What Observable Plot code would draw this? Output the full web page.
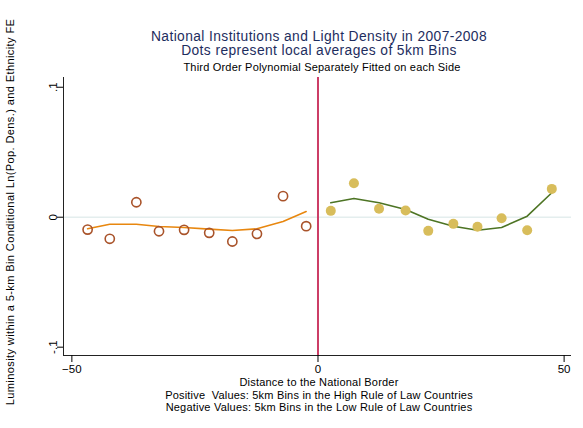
<!DOCTYPE html>
<html>
<head>
<meta charset="utf-8">
<script src="https://cdn.jsdelivr.net/npm/d3@7"></script>
<script src="https://cdn.jsdelivr.net/npm/@observablehq/plot@0.6"></script>
<style>
  html, body { margin: 0; padding: 0; background: #fff; }
  svg { display: block; }
</style>
</head>
<body>
<div id="chart"></div>
<script>
// Negative side (Low Rule of Law countries): local averages of 5km bins
const leftX = [-46.8, -42.3, -36.9, -32.3, -27.2, -22.1, -17.4, -12.4, -7.1, -2.4];
const leftY = [-0.0095, -0.0166, 0.0115, -0.0108, -0.0097, -0.012, -0.0187, -0.0128, 0.0162, -0.0069];
const leftFit = [-0.0089, -0.0054, -0.0054, -0.0072, -0.0079, -0.0092, -0.0102, -0.0089, -0.0033, 0.0044];

// Positive side (High Rule of Law countries)
const rightX = [2.6, 7.3, 12.4, 17.8, 22.4, 27.5, 32.4, 37.3, 42.5, 47.5];
const rightY = [0.0049, 0.0262, 0.0065, 0.0052, -0.0105, -0.0051, -0.0074, -0.0008, -0.01, 0.0218];
const rightFit = [0.0111, 0.0144, 0.0111, 0.0059, -0.0015, -0.0069, -0.01, -0.0079, 0.0008, 0.0188];

const xTicks = [-50, 0, 50];
const yTicks = [-0.1, 0, 0.1];
const yTickLabels = ["-.1", "0", ".1"];

const titleLines = ["National Institutions and Light Density in 2007-2008", "Dots represent local averages of 5km Bins"];
const subtitle = "Third Order Polynomial Separately Fitted on each Side";
const xTitleLines = ["Distance to the National Border",
  "Positive  Values: 5km Bins in the High Rule of Law Countries",
  "Negative Values: 5km Bins in the Low Rule of Law Countries"];
const yTitle = "Luminosity within a 5-km Bin Conditional Ln(Pop. Dens.) and Ethnicity FE";

const left = leftX.map((x, i) => ({x, y: leftY[i], fit: leftFit[i]}));
const right = rightX.map((x, i) => ({x, y: rightY[i], fit: rightFit[i]}));

const xDom = [-51.7, 51.5];
const yDom = [-0.1064, 0.1075];

const svg = Plot.plot({
  width: 583,
  height: 428,
  marginLeft: 63,
  marginRight: 12,
  marginTop: 77,
  marginBottom: 73,
  style: {fontFamily: "Liberation Sans, Arial, sans-serif", fontSize: "11px", color: "#000", background: "#fff"},
  x: {domain: xDom},
  y: {domain: yDom},
  marks: [
    Plot.ruleY([0], {stroke: "#e4eeee", strokeWidth: 1.5}),
    Plot.ruleX([0], {stroke: "#cc3d66", strokeWidth: 2}),
    Plot.line(left, {x: "x", y: "fit", stroke: "#e8870f", strokeWidth: 1.6}),
    Plot.line(right, {x: "x", y: "fit", stroke: "#4d7424", strokeWidth: 1.6}),
    Plot.dot(left, {x: "x", y: "y", r: 4.6, stroke: "#a9532a", strokeWidth: 1.6, fill: "none"}),
    Plot.dot(right, {x: "x", y: "y", r: 5, fill: "#d8bd5b", stroke: "none"}),
    Plot.ruleX([xDom[0]], {stroke: "#222", strokeWidth: 1}),
    Plot.ruleY([yDom[0]], {stroke: "#222", strokeWidth: 1}),
    Plot.axisX({ticks: xTicks, tickSize: 7, tickPadding: 2, label: null, fontSize: 11.5}),
    Plot.axisY({ticks: yTicks, tickSize: 6, tickPadding: 1, label: null, fontSize: 11.5,
      tickRotate: -90, tickFormat: (d) => yTickLabels[yTicks.indexOf(d)]})
  ]
});

const s = d3.select(svg);
const ff = "Liberation Sans, Arial, sans-serif";
titleLines.forEach((t, i) => {
  s.append("text").attr("x", 319).attr("y", 41 + i * 14).attr("text-anchor", "middle")
    .attr("font-family", ff).attr("font-size", 13.8).attr("letter-spacing", 0.4)
    .attr("fill", "#1e2d5e").text(t);
});
s.append("text").attr("x", 322).attr("y", 71).attr("text-anchor", "middle")
  .attr("font-family", ff).attr("font-size", 11).attr("letter-spacing", 0.2)
  .attr("fill", "#000").text(subtitle);
xTitleLines.forEach((t, i) => {
  s.append("text").attr("x", 319).attr("y", 386 + i * 12.5).attr("text-anchor", "middle")
    .attr("font-family", ff).attr("font-size", 11).attr("letter-spacing", 0.2)
    .attr("fill", "#000").text(t);
});
s.append("text").attr("transform", "translate(14,212) rotate(-90)").attr("text-anchor", "middle")
  .attr("font-family", ff).attr("font-size", 11).attr("letter-spacing", 0.4)
  .attr("fill", "#000").text(yTitle);

document.getElementById("chart").appendChild(svg);
</script>
</body>
</html>
